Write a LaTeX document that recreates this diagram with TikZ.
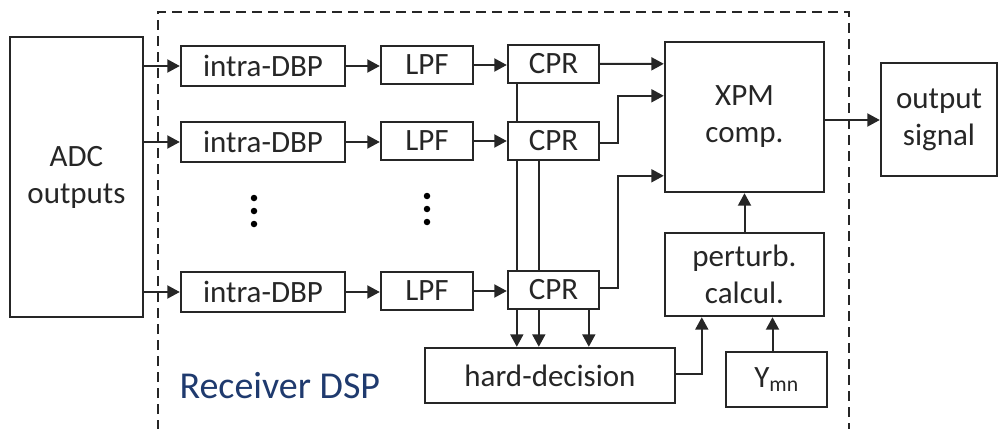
\documentclass[tikz,border=0pt]{standalone}
\usepackage{fontspec}
\setmainfont{Carlito}
\usetikzlibrary{arrows.meta,calc,backgrounds}

\definecolor{ink}{HTML}{262626}
\definecolor{dspblue}{HTML}{1F3A6E}

\tikzset{
  blk/.style={draw=ink, line width=2.4pt, fill=white, inner sep=0pt,
    font=\fontsize{31}{37}\selectfont, align=center, text=ink},
  link/.style={draw=ink, line width=2pt, -{Triangle[length=12.5pt,width=13pt]}},
  dot/.style={circle, fill=black, inner sep=0pt, minimum size=6.5pt},
}

\begin{document}
\begin{tikzpicture}[x=1pt,y=-1pt]
\useasboundingbox (0,0) rectangle (1008,428);

% receiver DSP frame, open at the bottom
\draw[ink, line width=1.4pt, dash pattern=on 10pt off 6pt]
  (158,430) -- (158,12) -- (849,12) -- (849,430);
\node[text=dspblue, font=\fontsize{38}{42}\selectfont, anchor=west] (dsp) at (176,386) {Receiver DSP};

% blocks
\node[blk, minimum width=133pt, minimum height=280pt] (adc) at (76.5,177) {ADC\\outputs};

\node[blk, minimum width=164pt, minimum height=40pt] (dbp1) at (263,66) {intra-DBP};
\node[blk, minimum width=164pt, minimum height=40pt] (dbp2) at (263,142) {intra-DBP};
\node[blk, minimum width=164pt, minimum height=40pt] (dbp3) at (263,292) {intra-DBP};

\node[blk, minimum width=92pt, minimum height=38pt] (lpf1) at (427,65) {LPF};
\node[blk, minimum width=92pt, minimum height=38pt] (lpf2) at (427,141) {LPF};
\node[blk, minimum width=92pt, minimum height=38pt] (lpf3) at (427,291) {LPF};

\node[blk, minimum width=91pt, minimum height=38pt] (cpr1) at (553.5,64) {CPR};
\node[blk, minimum width=91pt, minimum height=38pt] (cpr2) at (553.5,141) {CPR};
\node[blk, minimum width=91pt, minimum height=38pt] (cpr3) at (553.5,290) {CPR};

\node[blk, minimum width=159pt, minimum height=150pt] (xpm) at (744.5,117) {XPM\\comp.};
\node[blk, minimum width=159pt, minimum height=83pt] (pert) at (744.5,274.5) {perturb.\\calcul.};
\node[blk, minimum width=101pt, minimum height=55pt] (ymn) at (776.5,379.5) {Y\textsubscript{mn}};
\node[blk, minimum width=250pt, minimum height=55pt] (hd) at (550,375.5) {hard-decision};
\node[blk, minimum width=116pt, minimum height=113pt] (out) at (939,119.5) {output\\signal};

% vertical ellipses between the rows
\node[dot] (la) at (254,198) {};
\node[dot] (lb) at (254,211) {};
\node[dot] (lc) at (254,224) {};
\node[dot] (ra) at (427,196) {};
\node[dot] (rb) at (427,209) {};
\node[dot] (rc) at (427,222) {};

% taps under each CPR feeding the hard decision
\coordinate (t1) at ($(cpr1.south west)+(10,0)$);
\coordinate (t2) at ($(cpr2.south west)+(32,0)$);
\coordinate (t3) at ($(cpr3.south west)+(82,0)$);
\begin{scope}[on background layer]
  \draw[link] (t1) -- (t1 |- hd.north);
  \draw[link] (t2) -- (t2 |- hd.north);
  \draw[link] (t3) -- (t3 |- hd.north);
\end{scope}

% signal chains
\foreach \i in {1,2,3}{
  \draw[link] (adc.east |- dbp\i) -- (dbp\i.west);
  \draw[link] (dbp\i.east) -- (lpf\i.west |- dbp\i);
  \draw[link] (lpf\i.east) -- (cpr\i.west |- lpf\i);
}

% CPR outputs into the XPM compensation
\coordinate (x1) at ($(xpm.north west)+(0,23)$);
\coordinate (x2) at ($(xpm.north west)+(0,55)$);
\coordinate (x3) at ($(xpm.north west)+(0,135)$);
\coordinate (bend) at ($(cpr1.east)+(18,0)$);
\coordinate (c2) at ($(cpr2.east)+(0,2)$);
\coordinate (c3) at ($(cpr3.east)+(0,-2)$);
\draw[link] (cpr1.east) -- (x1);
\draw[link] (c2) -- (bend |- c2) -- (bend |- x2) -- (x2);
\draw[link] (c3) -- (bend |- c3) -- (bend |- x3) -- (x3);

% perturbation path
\coordinate (hdo) at ($(hd.east)+(0,-1.5)$);
\coordinate (pin) at ($(pert.south west)+(38,0)$);
\coordinate (yo) at ($(ymn.north)+(-4,0)$);
\draw[link] (hdo) -| (pin);
\draw[link] (yo) -- (yo |- pert.south);
\draw[link] (pert.north) -- (xpm.south);

% output
\coordinate (xo) at ($(xpm.east)+(0,3)$);
\draw[link] (xo) -- (xo -| out.west);
\end{tikzpicture}
\end{document}
